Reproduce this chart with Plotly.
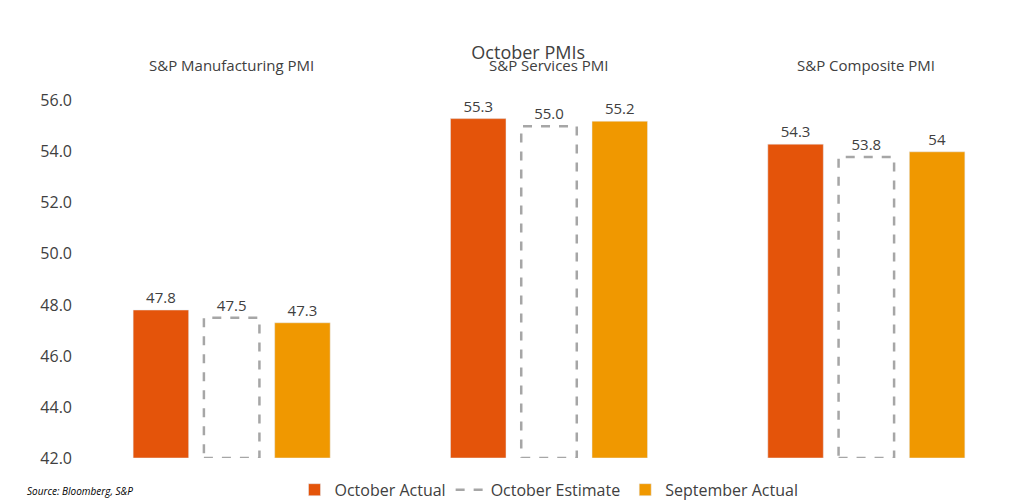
import plotly.graph_objects as go

categories = ["S&P Manufacturing PMI", "S&P Services PMI", "S&P Composite PMI"]
october_actual = [47.8, 55.3, 54.3]
october_estimate = [47.5, 55.0, 53.8]
september_actual = [47.3, 55.2, 54.0]
estimate_labels = ["47.5", "55.0", "53.8"]
september_labels = ["47.3", "55.2", "54"]
y_ticks = [42, 44, 46, 48, 50, 52, 54, 56]

FONT = "Open Sans"
BASE = 42
W = 0.175
STEP = 0.223
xs = list(range(len(categories)))

fig = go.Figure()
fig.add_bar(x=[x - STEP for x in xs], y=[v - BASE for v in october_actual], base=BASE,
            width=W, marker_color="#E4540A", name="October Actual",
            text=[f"{v:.1f}" for v in october_actual], textposition="outside",
            cliponaxis=False)
fig.add_bar(x=xs, y=[v - BASE for v in october_estimate], base=BASE, width=W,
            marker=dict(color="white", line=dict(width=0)),
            name="October Estimate", text=estimate_labels, textposition="outside",
            cliponaxis=False, showlegend=False)
# legend-only entry with a dashed symbol
fig.add_scatter(x=[None], y=[None], mode="lines", name="October Estimate",
                line=dict(color="#A6A6A6", width=2.5, dash="dash"))
fig.add_bar(x=[x + STEP for x in xs], y=[v - BASE for v in september_actual], base=BASE,
            width=W, marker_color="#F09800", name="September Actual",
            text=september_labels, textposition="outside", cliponaxis=False)

for x, v in zip(xs, october_estimate):
    fig.add_shape(type="rect", xref="x", yref="y", x0=x - W / 2, x1=x + W / 2,
                  y0=BASE, y1=v, line=dict(color="#A6A6A6", width=2.5, dash="dash"))

for x, c in zip(xs, categories):
    fig.add_annotation(x=x, y=1.03, xref="x", yref="paper", text=c, showarrow=False,
                       font=dict(size=15, color="#404040", family=FONT), yanchor="bottom")

fig.add_annotation(x=-0.05, y=-0.09, xref="paper", yref="paper", xanchor="left",
                   yanchor="middle", text="<i>Source: Bloomberg, S&P</i>", showarrow=False,
                   font=dict(size=10, color="#000000", family=FONT))

fig.update_layout(
    width=1024, height=500, plot_bgcolor="white", paper_bgcolor="white",
    margin=dict(l=65, r=7, t=80, b=50, autoexpand=False),
    title=dict(text="October PMIs", x=0.508, y=0.91, xanchor="center", yanchor="middle",
               font=dict(size=18, color="#404040", family=FONT)),
    font=dict(family=FONT, size=15, color="#404040"),
    barmode="overlay", showlegend=True,
    legend=dict(orientation="h", x=0.5, xanchor="center", y=-0.04, yanchor="top",
                font=dict(size=16, color="#404040"), traceorder="normal"),
    xaxis=dict(range=[-0.5, 2.5], showticklabels=False, showgrid=False, zeroline=False),
    yaxis=dict(range=[42, 56.5], tickvals=y_ticks, tickformat=".1f", showgrid=False,
               zeroline=False, tickfont=dict(size=16, color="#404040"), ticks=""),
)

fig.write_html("out.html")
